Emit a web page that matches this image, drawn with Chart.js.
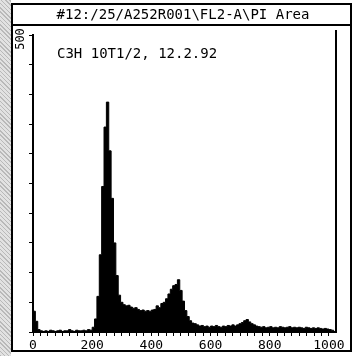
<!DOCTYPE html>
<html>
<head>
<meta charset="utf-8">
<script src="https://cdn.jsdelivr.net/npm/chart.js@4.4.0/dist/chart.umd.min.js"></script>
<style>
  html, body { margin: 0; padding: 0; }
  body {
    width: 355px; height: 356px;
    background: repeating-linear-gradient(45deg, #b9b9b9 0px, #b9b9b9 1px, #e2e2e2 1px, #e2e2e2 3px);
  }
  #wrap { position: relative; width: 355px; height: 356px; }
  canvas { background: linear-gradient(to right, transparent 11px, #ffffff 11px); }
</style>
</head>
<body>
<div id="wrap"><canvas id="histo" width="355" height="356"></canvas></div>
<script>
// Titles
var titleText = '#12:/25/A252R001\\FL2-A\\PI Area';
var sampleText = 'C3H 10T1/2, 12.2.92';

// Histogram: 128 bins of 8 channels each (0..1023), counts
var binWidth = 8;
var counts = [
  35, 18, 4, 2, 1, 2, 1, 3, 2, 1, 2, 3, 1, 2, 2, 4,
  2, 1, 3, 2, 2, 3, 2, 4, 3, 8, 22, 60, 130, 245, 345, 387,
  305, 225, 150, 95, 62, 50, 46, 44, 45, 42, 40, 41, 38, 36, 37, 35,
  36, 35, 37, 38, 44, 41, 48, 50, 56, 64, 72, 78, 80, 88, 70, 52,
  36, 26, 19, 15, 14, 12, 10, 11, 9, 10, 8, 10, 9, 11, 9, 8,
  10, 9, 11, 10, 12, 10, 12, 14, 16, 19, 21, 17, 14, 12, 10, 9,
  8, 9, 7, 8, 9, 7, 8, 7, 9, 8, 7, 8, 9, 7, 8, 7,
  8, 7, 6, 8, 7, 6, 7, 6, 7, 6, 5, 6, 5, 4, 3, 0
];

// axis ticks
var xLabels = [0, 200, 400, 600, 800, 1000];
var yTopLabel = '500';

var points = counts.map(function (c, i) { return { x: i * binWidth, y: c }; });
points.push({ x: counts.length * binWidth, y: 0 });

// draws the frame, the title box and the rotated "500"
var framePlugin = {
  id: 'frame',
  afterDraw: function (chart) {
    var ctx = chart.ctx;
    var area = chart.chartArea;
    ctx.save();
    ctx.strokeStyle = '#000';
    ctx.lineWidth = 2;
    ctx.strokeRect(12, 4, 339, 347);
    ctx.beginPath();
    ctx.moveTo(12, 25);
    ctx.lineTo(351, 25);
    ctx.moveTo(336, 30);
    ctx.lineTo(336, area.bottom);
    ctx.stroke();

    ctx.fillStyle = '#000';
    ctx.font = '14px "DejaVu Sans Mono"';
    ctx.textAlign = 'center';
    ctx.textBaseline = 'middle';
    ctx.fillText(titleText, 183, 15);

    ctx.textAlign = 'left';
    ctx.fillText(sampleText, 57, 54);

    ctx.translate(21, 39);
    ctx.rotate(-Math.PI / 2);
    ctx.textAlign = 'center';
    ctx.font = '12px "DejaVu Sans Mono"';
    ctx.fillText(yTopLabel, 0, 0);
    ctx.restore();
  }
};

var ctx = document.getElementById('histo').getContext('2d');
var chart = new Chart(ctx, {
  type: 'line',
  data: {
    datasets: [{
      data: points,
      stepped: true,
      fill: 'origin',
      backgroundColor: '#000',
      borderColor: '#000',
      borderWidth: 1,
      pointRadius: 0
    }]
  },
  options: {
    responsive: false,
    animation: false,
    layout: { padding: { top: 35, right: 19, left: 0, bottom: 0 } },
    plugins: {
      legend: { display: false },
      tooltip: { enabled: false }
    },
    scales: {
      x: {
        type: 'linear',
        min: 0,
        max: 1024,
        afterBuildTicks: function (scale) {
          var t = [];
          for (var v = 0; v <= 1000; v += 25) t.push({ value: v });
          scale.ticks = t;
        },
        afterFit: function (scale) { scale.height = 24; },
        border: { display: true, color: '#000', width: 2 },
        grid: { drawOnChartArea: false, drawTicks: true, tickLength: 4, color: '#000', lineWidth: 1 },
        ticks: {
          autoSkip: false,
          maxRotation: 0,
          padding: 2,
          color: '#000',
          font: { family: 'DejaVu Sans Mono', size: 13 },
          callback: function (v) { return xLabels.indexOf(v) >= 0 ? String(v) : ''; }
        }
      },
      y: {
        min: 0,
        max: 500,
        afterFit: function (scale) { scale.width = 33; },
        border: { display: true, color: '#000', width: 2 },
        grid: { drawOnChartArea: false, drawTicks: true, tickLength: 4, color: '#000', lineWidth: 1 },
        ticks: {
          stepSize: 50,
          color: '#000',
          callback: function () { return ''; }
        }
      }
    }
  },
  plugins: [framePlugin]
});
</script>
</body>
</html>
